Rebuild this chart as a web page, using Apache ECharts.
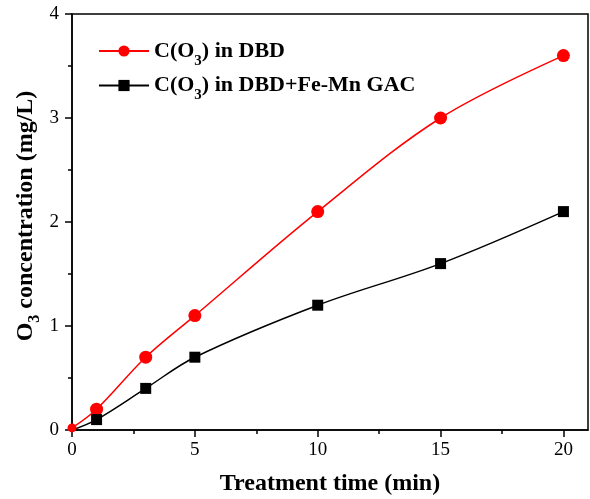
<!DOCTYPE html>
<html><head><meta charset="utf-8">
<script src="https://cdn.jsdelivr.net/npm/echarts@6/dist/echarts.min.js"></script>
<style>html,body{margin:0;padding:0;background:#fff}#c{width:590px;height:499px}</style>
</head><body><div id="c"></div>
<script>
const timeMin = [0, 1, 3, 5, 10, 15, 20];
const dbd = [0.02, 0.2, 0.7, 1.1, 2.1, 3.0, 3.6];
const dbdGac = [0, 0.1, 0.4, 0.7, 1.2, 1.6, 2.1];
const xTicks = [0, 5, 10, 15, 20];
const xMinorTicks = [2.5, 7.5, 12.5, 17.5];
const names = ['C(O3) in DBD', 'C(O3) in DBD+Fe-Mn GAC'];

const F = '"Liberation Serif","Times New Roman",serif';
const chart = echarts.init(document.getElementById('c'));
// first point (origin) sits on the axes: drawn smaller / hidden like in the reference
const pair = (xs, ys, firstSize) => xs.map((x, i) => i === 0 ? {value: [x, ys[i]], symbolSize: firstSize} : [x, ys[i]]);
const legendRich = {
  a: {fontFamily: F, fontWeight: 'bold', fontSize: 22, color: '#000'},
  s: {fontFamily: F, fontWeight: 'bold', fontSize: 15, color: '#000', padding: [20, 0, 0, 0]}
};
const nameRich = {
  a: {fontFamily: F, fontWeight: 'bold', fontSize: 24, color: '#000'},
  s: {fontFamily: F, fontWeight: 'bold', fontSize: 16, color: '#000', padding: [18, 0, 0, 0]}
};
chart.setOption({
  animation: false,
  grid: {left: 72, top: 14, right: 2, bottom: 69, outerBoundsMode: 'none', containLabel: false,
         show: true, borderColor: '#000', borderWidth: 1.5, backgroundColor: 'transparent'},
  legend: {
    orient: 'vertical', left: 93, top: 35, itemWidth: 50, itemHeight: 14, itemGap: 6,
    textStyle: {rich: legendRich, fontFamily: F, fontSize: 22, fontWeight: 'bold'},
    formatter: n => n === names[0] ? '{a|C(O}{s|3}{a|) in DBD}' : '{a|C(O}{s|3}{a|) in DBD+Fe-Mn GAC}',
    data: names
  },
  xAxis: [{
    type: 'value', min: 0, max: 21, interval: 5,
    name: 'Treatment time (min)', nameLocation: 'middle', nameGap: 42, nameMoveOverlap: false,
    nameTextStyle: {fontFamily: F, fontWeight: 'bold', fontSize: 24, color: '#000'},
    axisLine: {show: true, lineStyle: {color: '#000', width: 1.5}},
    axisTick: {show: true, inside: false, length: 7, lineStyle: {color: '#000', width: 1.5}, customValues: xTicks},
    axisLabel: {color: '#000', fontFamily: F, fontSize: 19, margin: 11, customValues: xTicks},
    splitLine: {show: false}
  }, {
    type: 'value', min: 0, max: 21, position: 'bottom', gridIndex: 0,
    axisLine: {show: false},
    axisTick: {show: true, inside: false, length: 4, lineStyle: {color: '#000', width: 1.5}, customValues: xMinorTicks},
    axisLabel: {show: false}, splitLine: {show: false}
  }],
  yAxis: {
    type: 'value', min: 0, max: 4, interval: 1,
    name: '{a|O}{s|3}{a| concentration (mg/L)}', nameLocation: 'middle', nameGap: 29, nameRotate: 90,
    nameMoveOverlap: false,
    nameTextStyle: {rich: nameRich, padding: [0, 0, 0, 12]},
    axisLine: {show: true, lineStyle: {color: '#000', width: 1.5}},
    axisTick: {show: true, inside: false, length: 7, lineStyle: {color: '#000', width: 1.5}},
    minorTick: {show: true, splitNumber: 2, length: 4, lineStyle: {color: '#000', width: 1.5}},
    axisLabel: {color: '#000', fontFamily: F, fontSize: 19, margin: 13},
    splitLine: {show: false}
  },
  series: [{
    name: names[0], type: 'line', data: pair(timeMin, dbd, 9), smooth: 0.35,
    symbol: 'circle', symbolSize: 13, color: '#ff0000',
    lineStyle: {color: '#ff0000', width: 1.5}, itemStyle: {color: '#ff0000'}
  }, {
    name: names[1], type: 'line', data: pair(timeMin, dbdGac, 0), smooth: 0.35,
    symbol: 'rect', symbolSize: 11, color: '#000',
    lineStyle: {color: '#000', width: 1.5}, itemStyle: {color: '#000'}
  }]
});
</script></body></html>
